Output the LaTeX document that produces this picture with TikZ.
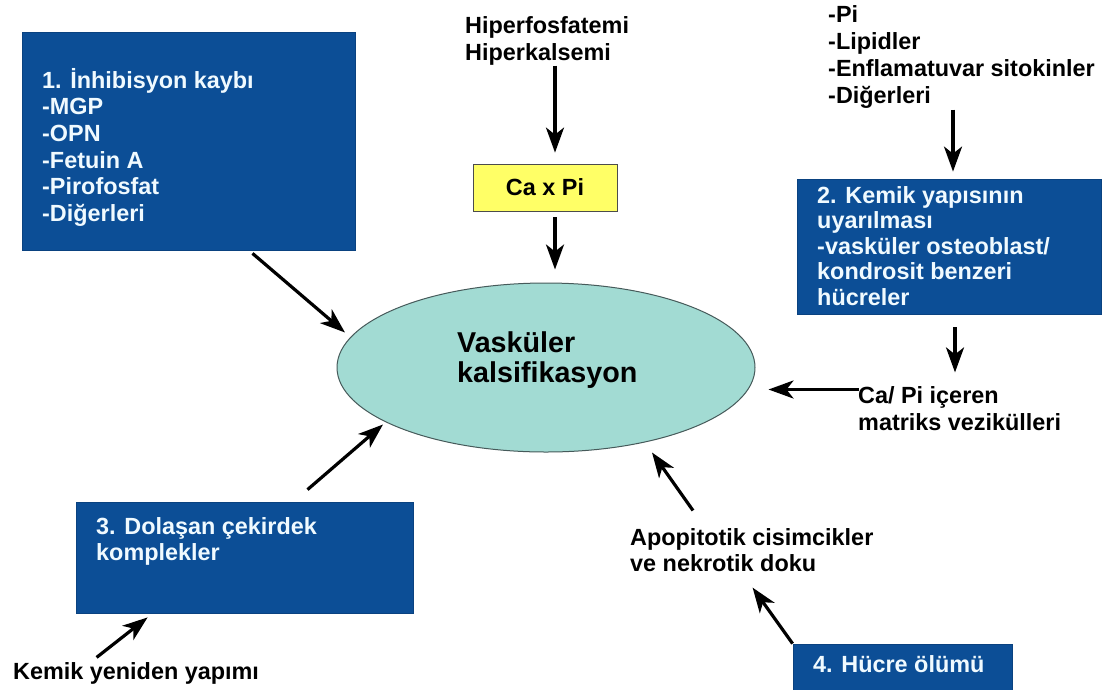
\documentclass[tikz,border=0pt]{standalone}
\usepackage{fontspec}
\setmainfont{Liberation Sans}
\usetikzlibrary{arrows.meta,calc,shapes.geometric}
\definecolor{boxblue}{RGB}{12,78,150}
\definecolor{ellfill}{RGB}{162,219,211}
\definecolor{ellline}{RGB}{70,90,90}
\definecolor{capiyellow}{RGB}{255,255,102}
\definecolor{boxtext}{RGB}{240,250,255}
\tikzset{
 bluebox/.style={rectangle, fill=boxblue, draw=boxblue!85!black, line width=0.8pt, inner sep=0pt},
 wtext/.style={text=boxtext, align=left, inner sep=0pt, anchor=base west},
 btext/.style={text=black, align=left, inner sep=0pt, anchor=base west},
 fs/.style={font=\fontsize{23.4pt}{#1}\selectfont\bfseries},
 arr/.style={line width=3.2pt, -{Stealth[length=25pt,width=18pt,inset=7pt]}},
}
\begin{document}
\begin{tikzpicture}[x=1pt,y=-1pt]
\useasboundingbox (0,0) rectangle (1107,689);
\fill[white] (0,0) rectangle (1107,689);
% boxes
\node[bluebox, minimum width=333pt, minimum height=218pt] (b1) at (188.5,141) {};
\node[bluebox, minimum width=304pt, minimum height=135pt] (b2) at (949,246.5) {};
\node[bluebox, minimum width=337pt, minimum height=111pt] (b3) at (244.5,557.5) {};
\node[bluebox, minimum width=219pt, minimum height=47pt] (b4) at (902.5,667.5) {};
\node[rectangle, fill=capiyellow, draw=black!70, line width=0.8pt, minimum width=144pt, minimum height=47pt, inner sep=0pt,
      fs=26pt] (cxp) at (545,187.5) {Ca x Pi};
\node[ellipse, fill=ellfill, draw=ellline, line width=1pt, minimum width=418pt, minimum height=169pt, inner sep=0pt] (ell) at (546,367.5) {};
% texts (anchor = baseline of last line)
\node[wtext, fs=26.7pt] (t1) at (42,221.5) {1. İnhibisyon kaybı\\-MGP\\-OPN\\-Fetuin A\\-Pirofosfat\\-Diğerleri};
\node[wtext, fs=25.5pt] (t2) at (817,305) {2. Kemik yapısının\\uyarılması\\-vasküler osteoblast/\\kondrosit benzeri\\hücreler};
\node[wtext, fs=26pt] (t3) at (96,560) {3. Dolaşan çekirdek\\komplekler};
\node[wtext, fs=26pt] (t4) at (813,672) {4. Hücre ölümü};
\node[btext, fs=27pt] (hyp) at (465,60) {Hiperfosfatemi\\Hiperkalsemi};
\node[btext, fs=26.7pt] (pil) at (828,103) {-Pi\\-Lipidler\\-Enflamatuvar sitokinler\\-Diğerleri};
\node[btext, font=\fontsize{28.7pt}{30pt}\selectfont\bfseries] (et) at (457,382) {Vasküler\\kalsifikasyon};
\node[btext, fs=27pt] (capi) at (858,430) {Ca/ Pi içeren\\matriks vezikülleri};
\node[btext, fs=26pt] (apo) at (630,571) {Apopitotik cisimcikler\\ve nekrotik doku};
\node[btext, fs=26pt] (kem) at (13,679) {Kemik yeniden yapımı};
% arrows
\draw[arr] ($(cxp.center)+(10,-122)$) -- ($(cxp.north)+(10,-11)$);
\draw[arr] ($(cxp.south)+(10,6)$) -- ($(ell.north)+(9,-13)$);
\draw[arr] ($(b2.north)+(4,-69)$) -- ($(b2.north)+(4,-7)$);
\draw[arr] ($(b2.south)+(6,13)$) -- ($(b2.south)+(6,58)$);
\draw[arr] ($(ell.east)+(103,22)$) -- ($(ell.east)+(13,22)$);
\draw[arr] ($(b1.south)+(64,3)$) -- ($(ell.center)+(-201,-35)$);
\draw[arr] ($(b3.north)+(63,-12)$) -- ($(ell.center)+(-163,57)$);
\draw[arr] ($(b3.south west)+(21,44)$) -- ($(b3.south west)+(72,4)$);
\draw[arr] ($(ell.center)+(147,143)$) -- ($(ell.center)+(106,85)$);
\draw[arr] ($(b4.north west)+(0,0)$) -- ($(b4.north west)+(-40,-56)$);
\end{tikzpicture}
\end{document}
